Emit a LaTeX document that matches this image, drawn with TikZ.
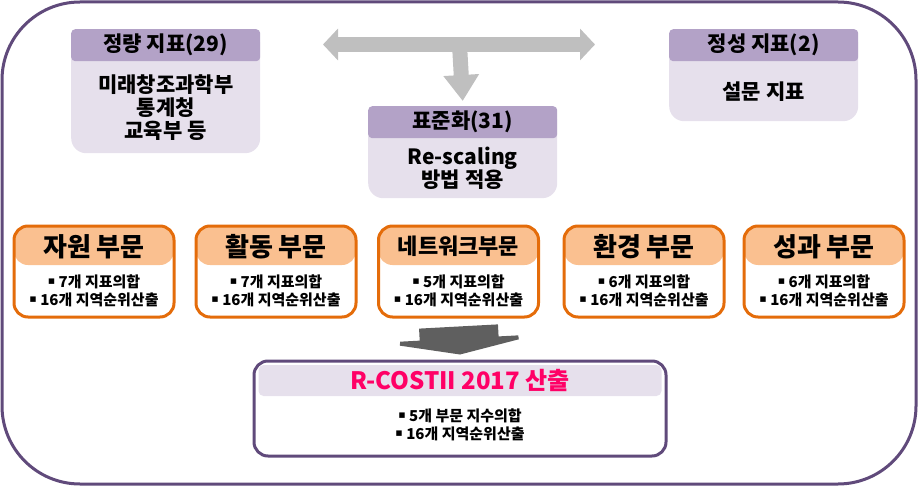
\documentclass[tikz,border=0pt]{standalone}
\usepackage{fontspec}
\setmainfont{Noto Sans CJK KR}
\newfontfamily\symfont{DejaVu Sans}
\usepackage{tikz}
\usetikzlibrary{arrows.meta, positioning, calc}

\definecolor{framepurple}{HTML}{604A7B}
\definecolor{hdrpurple}{HTML}{B3A2C7}
\definecolor{bodypurple}{HTML}{E6E0EC}
\definecolor{secorange}{HTML}{E46C0A}
\definecolor{secfill}{HTML}{FAC090}
\definecolor{arrowgray}{HTML}{BFBFBF}
\definecolor{arrowdark}{HTML}{5F5F5F}
\definecolor{titlepink}{HTML}{FF0066}

\newcommand{\bul}{\raisebox{2.5pt}{\symfont\fontsize{11}{11}\selectfont ▪}~}

\tikzset{
  topbox/.style={fill=bodypurple, rounded corners=15pt, minimum width=189pt, anchor=north west, inner sep=0pt},
  tophdr/.style={fill=hdrpurple, rounded corners=4pt, minimum width=189pt, minimum height=32pt, anchor=north,
    font=\fontsize{21}{23}\selectfont\bfseries},
  toptxt/.style={align=center, font=\fontsize{21}{23}\selectfont\bfseries},
  secbox/.style={draw=secorange, line width=3pt, rounded corners=14pt, minimum width=160pt, minimum height=91pt,
    path picture={\fill[secfill] (path picture bounding box.north west) rectangle ([yshift=-39pt]path picture bounding box.north east);}},
  sechdr/.style={font=\fontsize{26}{28}\selectfont\bfseries},
  sectxt/.style={align=center, font=\fontsize{15}{18}\selectfont\bfseries},
  resbox/.style={draw=framepurple, line width=3pt, rounded corners=14pt, minimum width=412pt, minimum height=95pt},
  restitle/.style={fill=bodypurple, rounded corners=5pt, minimum width=403pt, minimum height=31pt, text=titlepink,
    font=\fontsize{24}{26}\selectfont\bfseries},
  garrow/.style={arrowgray, line width=15pt, {Triangle[length=15pt, width=31pt]}-{Triangle[length=15pt, width=31pt]}},
  gdown/.style={arrowgray, line width=15pt, -{Triangle[length=26pt, width=34pt]}},
  darrow/.style={arrowdark, line width=79pt, -{Triangle[length=16pt, width=158pt]}}
}

\begin{document}
\begin{tikzpicture}[x=1pt, y=-1pt]
  \useasboundingbox (0,0) rectangle (918,487);
  % outer frame
  \draw[framepurple, line width=3pt, rounded corners=78pt] (2,2) rectangle (916,484);

  % indicator boxes
  \node[topbox, minimum height=124pt] (qbox) at (71,29) {};
  \node[tophdr] (qhdr) at (qbox.north) {정량 지표(29)};
  \node[toptxt] (qtxt) at ($(qhdr.south)!0.5!(qbox.south)$) {미래창조과학부\\통계청\\교육부 등};

  \node[topbox, minimum height=92pt] (sbox) at (368,106) {};
  \node[tophdr] (shdr) at (sbox.north) {표준화(31)};
  \node[toptxt] (stxt) at ($(shdr.south)!0.5!(sbox.south)$) {Re-scaling\\방법 적용};

  \node[topbox, minimum height=92pt] (lbox) at (669,29) {};
  \node[tophdr] (lhdr) at (lbox.north) {정성 지표(2)};
  \node[toptxt] (ltxt) at ($(lhdr.south)!0.5!(lbox.south)$) {설문 지표};

  \coordinate (gl) at (323,44.5);
  \coordinate (gr) at (595,44.5);
  \coordinate (gm) at (459.5,44.5);
  \draw[garrow] (gl) -- (gr);
  \draw[gdown] (gm) -- ($(sbox.north)+(0,-5)$);

  % sectors
  \node[secbox] (res1) at (94,271.5) {};
  \node[secbox] (act) at (276,271.5) {};
  \node[secbox] (net) at (458.5,271.5) {};
  \node[secbox] (env) at (644,271.5) {};
  \node[secbox] (out) at (824,271.5) {};

  \node[sechdr] at ($(res1.north)+(0,22)$) {자원 부문};
  \node[sechdr] at ($(act.north)+(0,22)$) {활동 부문};
  \node[sechdr, font=\fontsize{22}{26}\selectfont\bfseries] at ($(net.north)+(0,22)$) {네트워크부문};
  \node[sechdr] at ($(env.north)+(0,22)$) {환경 부문};
  \node[sechdr] at ($(out.north)+(0,22)$) {성과 부문};

  \node[sectxt] at ($(res1.south)+(0,-28)$) {\bul 7개 지표의합\\\bul 16개 지역순위산출};
  \node[sectxt] at ($(act.south)+(0,-28)$) {\bul 7개 지표의합\\\bul 16개 지역순위산출};
  \node[sectxt] at ($(net.south)+(0,-28)$) {\bul 5개 지표의합\\\bul 16개 지역순위산출};
  \node[sectxt] at ($(env.south)+(0,-28)$) {\bul 6개 지표의합\\\bul 16개 지역순위산출};
  \node[sectxt] at ($(out.south)+(0,-28)$) {\bul 6개 지표의합\\\bul 16개 지역순위산출};

  % result
  \node[resbox] (res) at (460,408.5) {};
  \node[restitle] (rtitle) at ($(res.north)+(0,21)$) {R-COSTII 2017 산출};
  \node[sectxt] (rtxt) at ($(res.south)+(0,-33)$) {\bul 5개 부문 지수의합\\\bul 16개 지역순위산출};

  \draw[darrow] ($(net.south)+(0,8)$) -- ($(res.north)+(0,-5)$);
\end{tikzpicture}
\end{document}
